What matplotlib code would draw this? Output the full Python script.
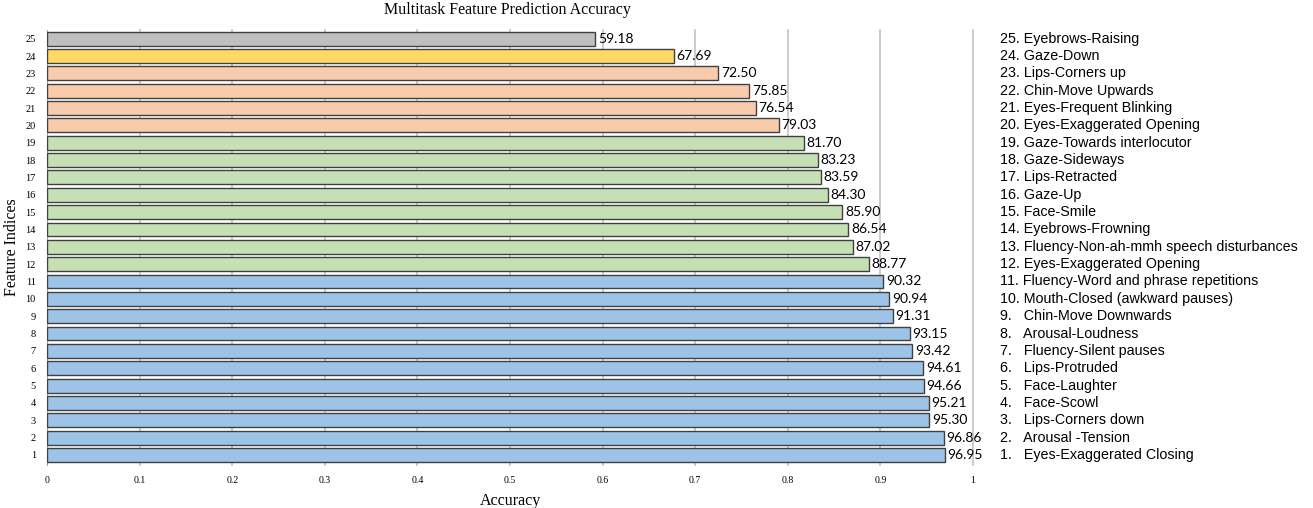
import matplotlib.pyplot as plt
import matplotlib.transforms as mtransforms

indices = list(range(1, 26))
accuracy = [96.95, 96.86, 95.30, 95.21, 94.66, 94.61, 93.42, 93.15, 91.31, 90.94,
            90.32, 88.77, 87.02, 86.54, 85.90, 84.30, 83.59, 83.23, 81.70, 79.03,
            76.54, 75.85, 72.50, 67.69, 59.18]
groups = ['blue'] * 11 + ['green'] * 8 + ['peach'] * 4 + ['yellow'] + ['gray']
features = [
    'Eyes-Exaggerated Closing', 'Arousal -Tension', 'Lips-Corners down', 'Face-Scowl',
    'Face-Laughter', 'Lips-Protruded', 'Fluency-Silent pauses', 'Arousal-Loudness',
    'Chin-Move Downwards', 'Mouth-Closed (awkward pauses)', 'Fluency-Word and phrase repetitions',
    'Eyes-Exaggerated Opening', 'Fluency-Non-ah-mmh speech disturbances', 'Eyebrows-Frowning',
    'Face-Smile', 'Gaze-Up', 'Lips-Retracted', 'Gaze-Sideways', 'Gaze-Towards interlocutor',
    'Eyes-Exaggerated Opening', 'Eyes-Frequent Blinking', 'Chin-Move Upwards',
    'Lips-Corners up', 'Gaze-Down', 'Eyebrows-Raising',
]

palette = {'blue': '#9dc3e6', 'green': '#c5e0b4', 'peach': '#f8cbad',
           'yellow': '#ffd966', 'gray': '#bfbfbf'}

fig = plt.figure(figsize=(13.13, 5.08), dpi=100)
ax = fig.add_axes([47 / 1313, 1 - 465 / 508, (973 - 47) / 1313, 435 / 508])

vals = [a / 100 for a in accuracy]
ax.barh(indices, vals, height=0.8, color=[palette[g] for g in groups],
        edgecolor='#404040', linewidth=1.0, zorder=3)

for i, v, a in zip(indices, vals, accuracy):
    ax.text(v + 0.003, i, f'{a:.2f}', va='center', ha='left',
            fontsize=10, family='Lato', zorder=4)

ticks = [0, 0.1, 0.2, 0.3, 0.4, 0.5, 0.6, 0.7, 0.8, 0.9, 1]
ax.set_xlim(0, 1)
ax.set_ylim(0.42, 25.5)
ax.set_xticks(ticks)
ax.set_xticklabels(['0', '0.1', '0.2', '0.3', '0.4', '0.5', '0.6', '0.7', '0.8', '0.9', '1'])
ax.set_yticks(indices)
ax.tick_params(axis='x', labelsize=7, length=0, pad=8)
ax.tick_params(axis='y', labelsize=7.5, length=0, pad=8)
for lbl in ax.get_xticklabels() + ax.get_yticklabels():
    lbl.set_family('Liberation Serif')
for t in ticks[1:]:
    ax.axvline(t, color='#c8c8c8', linewidth=1.3, zorder=0, clip_on=False)
for s in ['top', 'bottom', 'right']:
    ax.spines[s].set_visible(False)
ax.spines['left'].set_color('#a0a0a0')

ax.set_xlabel('Accuracy', family='Liberation Serif', fontsize=11.5, labelpad=6)
ax.set_ylabel('Feature Indices', family='Liberation Serif', fontsize=11.5, labelpad=4)
fig.text(507 / 1313, 1 - 10 / 508, 'Multitask Feature Prediction Accuracy',
         family='Liberation Serif', fontsize=11.5, ha='center', va='center')

trans = mtransforms.blended_transform_factory(fig.transFigure, ax.transData)
for i, name in zip(indices, features):
    sep = '.   ' if i < 10 else '. '
    ax.text(1000 / 1313, i, f'{i}{sep}{name}', transform=trans, va='center', ha='left',
            fontsize=10.3, family='Liberation Sans', clip_on=False)

fig.savefig('out.png', dpi=100)
